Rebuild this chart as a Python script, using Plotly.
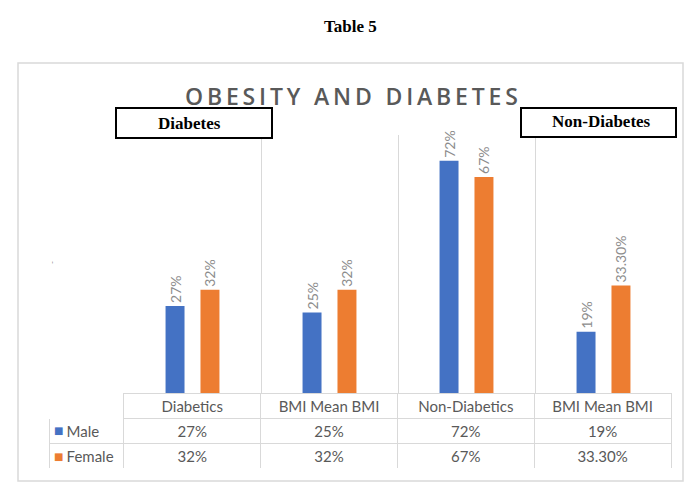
import plotly.graph_objects as go

categories = ["Diabetics", "BMI Mean BMI", "Non-Diabetics", "BMI Mean BMI"]
series_names = ["Male", "Female"]
male = [27, 25, 72, 19]
female = [32, 32, 67, 33.3]
male_labels = ["27%", "25%", "72%", "19%"]
female_labels = ["32%", "32%", "67%", "33.30%"]

BLUE = "#4472C4"
ORANGE = "#ED7D31"
GRID = "#D9D9D9"
TXT = "#595959"
OFF = 8  # default page body margin
W, H = 684, 474


def px(x):
    return (x - OFF) / W


def py(y):
    return 1 - (y - OFF) / H


xpos = list(range(len(categories)))

fig = go.Figure()
for name, vals, labels, col in [(series_names[0], male, male_labels, BLUE),
                                (series_names[1], female, female_labels, ORANGE)]:
    fig.add_trace(go.Bar(
        x=xpos, y=vals, name=name, marker=dict(color=col, line=dict(width=0)),
        text=labels, textposition="outside", textangle=-90,
        textfont=dict(family="Lato", size=14, color="#8C8C8C"),
        cliponaxis=False, constraintext="none", showlegend=False,
        hoverinfo="skip"))

fig.add_trace(go.Table(
    domain=dict(x=[px(49), px(672)], y=[py(468), py(393)]),
    columnwidth=[75, 137, 137, 137, 137],
    header=dict(
        values=[""] + categories,
        fill=dict(color="white"),
        line=dict(color=["white"] + [GRID] * 4, width=1),
        font=dict(family="Lato", size=15, color=TXT),
        align="center", height=25),
    cells=dict(
        values=[["\u00a0\u00a0\u2009" + s for s in series_names]]
               + [[m, f] for m, f in zip(male_labels, female_labels)],
        fill=dict(color="white"),
        line=dict(color=GRID, width=1),
        font=dict(family="Lato", size=15, color=TXT),
        align=["left", "center", "center", "center", "center"], height=25),
))

title_txt = "\u2006".join("OBESITY AND DIABETES")


def ann(text, x, y, **font):
    return dict(text=text, x=px(x), y=py(y), xref="paper", yref="paper",
                showarrow=False, xanchor="center", yanchor="middle",
                font=font)


fig.update_layout(
    width=W, height=H,
    margin=dict(l=0, r=0, t=0, b=0),
    paper_bgcolor="white", plot_bgcolor="white",
    barmode="group", bargap=0.49, bargroupgap=0.457,
    xaxis=dict(domain=[px(124), px(672)], range=[-0.5, 3.5],
               tickvals=[-0.5, 0.5, 1.5, 2.5, 3.5], showticklabels=False,
               showgrid=True, gridcolor=GRID, gridwidth=1, zeroline=False,
               ticks=""),
    yaxis=dict(domain=[py(393), py(135)], range=[0, 80], visible=False,
               showgrid=False),
    shapes=[
        dict(type="rect", xref="paper", yref="paper",
             x0=px(18), x1=px(683), y0=py(481), y1=py(63),
             line=dict(color=GRID, width=1.5), fillcolor="rgba(0,0,0,0)",
             layer="below"),
        dict(type="rect", xref="paper", yref="paper",
             x0=px(116), x1=px(272), y0=py(138), y1=py(108),
             line=dict(color="black", width=2), fillcolor="white",
             layer="above"),
        dict(type="rect", xref="paper", yref="paper",
             x0=px(521), x1=px(676), y0=py(137), y1=py(108),
             line=dict(color="black", width=2), fillcolor="white",
             layer="above"),
    ],
    annotations=[
        ann("<b>Table 5</b>", 350, 27,
            family="Liberation Serif", size=17, color="black"),
        ann(title_txt, 351, 96,
            family="Open Sans", size=23, color=TXT, weight=600),
        ann("<b>Diabetes</b>", 189, 123,
            family="Liberation Serif", size=17, color="black"),
        ann("<b>Non-Diabetes</b>", 601, 122,
            family="Liberation Serif", size=17, color="black"),
        dict(text="-", x=px(52), y=py(263), xref="paper", yref="paper",
             showarrow=False, textangle=-90, xanchor="center",
             yanchor="middle",
             font=dict(family="Lato", size=8, color="#7F7F7F")),
        ann("■", 58, 430.5, family="DejaVu Sans", size=10, color=BLUE),
        ann("■", 58, 456, family="DejaVu Sans", size=10, color=ORANGE),
    ],
)

fig.write_html("out.html")
